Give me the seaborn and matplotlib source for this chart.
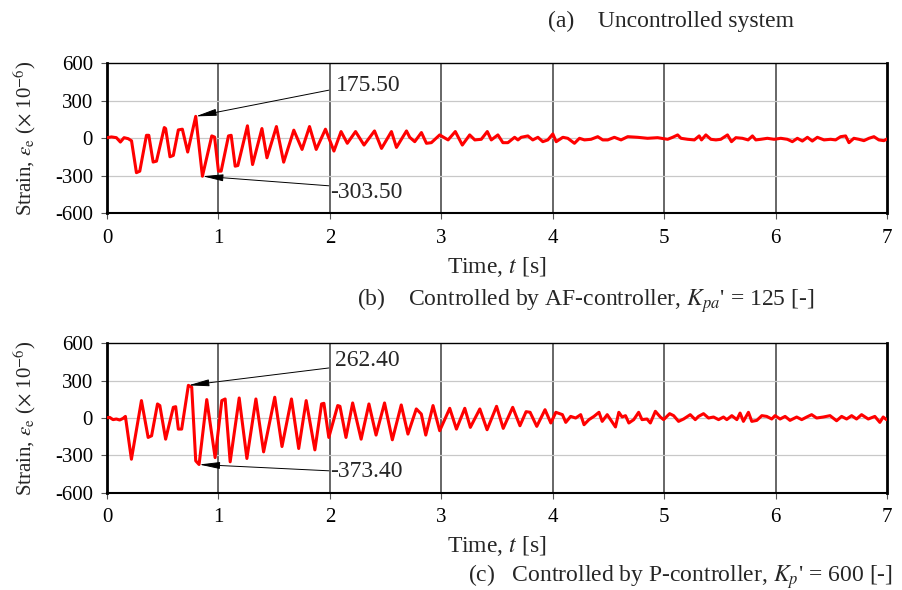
import numpy as np
import pandas as pd
import seaborn as sns
import matplotlib
matplotlib.use("Agg")
import matplotlib.pyplot as plt

# Panel (a)/(b) upper trace: time [s] and strain (x 1e-6)
t_top = [0.00, 0.04, 0.084, 0.12, 0.153, 0.19, 0.22, 0.264, 0.294, 0.354, 0.375,
         0.414, 0.444, 0.514, 0.526, 0.565, 0.595, 0.64, 0.676, 0.724, 0.796,
         0.856, 0.94, 0.965, 1.0, 1.024, 1.09, 1.114, 1.15, 1.174, 1.26, 1.306,
         1.39, 1.435, 1.52, 1.585, 1.676, 1.75, 1.817, 1.877, 1.96, 2.036,
         2.1, 2.156, 2.23, 2.306, 2.4, 2.463, 2.552, 2.597, 2.687, 2.716, 2.761,
         2.821, 2.866, 2.91, 2.985, 3.06, 3.125, 3.188, 3.254, 3.3, 3.358,
         3.412, 3.448, 3.507, 3.552, 3.597, 3.657, 3.687, 3.716, 3.776, 3.82,
         3.866, 3.91, 3.955, 4.0, 4.03, 4.09, 4.134, 4.194, 4.239, 4.284,
         4.343, 4.403, 4.448, 4.493, 4.552, 4.612, 4.672, 4.761, 4.85, 4.94,
         5.03, 5.075, 5.12, 5.15, 5.21, 5.27, 5.313, 5.334, 5.373, 5.418,
         5.463, 5.507, 5.567, 5.603, 5.642, 5.701, 5.752, 5.791, 5.821, 5.866,
         5.925, 5.985, 6.045, 6.104, 6.149, 6.194, 6.239, 6.284, 6.328, 6.373,
         6.433, 6.493, 6.537, 6.582, 6.627, 6.657, 6.701, 6.746, 6.791, 6.836,
         6.881, 6.925, 6.97, 7.0]
e_top = [5, 11, 5, -30, 5, -3, -20, -275, -263, 24, 24,
         -190, -183, 86, 78, -148, -137, 67, 73, -110, 175.5,
         -303.5, 19, 10, -263, -263, 19, 24, -223, -218, 100, -210,
         78, -156, 94, -191, 65, -89, 94, -89, 73, -102,
         54, -40, 54, -54, 59, -81, 54, -73, 59, 8, -27,
         46, -40, -35, 27, -13, 54, -54, 27, -13, -8,
         54, -13, 27, -35, -35, 8, -13, 8, 19, -13,
         8, -27, -13, 35, -27, 8, 0, -40, 0, -13,
         -8, 13, -13, -13, 8, -13, 13, 8, 0, 5,
         -8, 8, 27, 0, -8, -13, 19, -13, 27, -8,
         -13, -8, 27, -27, 5, 0, -13, 19, -13, -8,
         0, -8, 0, -8, -27, 0, -22, 8, -22, 8,
         -13, -8, -13, 13, 19, -35, 0, -8, -19, 0,
         13, -13, -19, -5]

# Panel (b)/(c) lower trace
t_bot = [0.00, 0.024, 0.054, 0.084, 0.114, 0.144, 0.165, 0.219, 0.309, 0.369,
         0.40, 0.453, 0.474, 0.526, 0.595, 0.616, 0.64, 0.67, 0.73, 0.76,
         0.796, 0.826, 0.895, 0.97, 1.03, 1.06, 1.105, 1.186, 1.255, 1.336,
         1.405, 1.505, 1.57, 1.655, 1.72, 1.787, 1.865, 1.925, 1.946, 1.99,
         2.07, 2.09, 2.144, 2.204, 2.28, 2.35, 2.414, 2.49, 2.56, 2.64,
         2.70, 2.775, 2.82, 2.86, 2.925, 2.985, 3.075, 3.135, 3.21, 3.26,
         3.345, 3.41, 3.495, 3.555, 3.64, 3.705, 3.76, 3.796, 3.856, 3.93,
         3.982, 4.027, 4.086, 4.116, 4.16, 4.205, 4.25, 4.28, 4.324, 4.369,
         4.414, 4.443, 4.488, 4.518, 4.562, 4.592, 4.622, 4.652, 4.682, 4.726,
         4.77, 4.80, 4.845, 4.875, 4.92, 4.964, 4.994, 5.048, 5.084, 5.128,
         5.173, 5.233, 5.278, 5.307, 5.352, 5.397, 5.442, 5.487, 5.531, 5.561,
         5.606, 5.651, 5.68, 5.71, 5.755, 5.785, 5.83, 5.875, 5.919, 5.964,
         5.994, 6.039, 6.084, 6.128, 6.188, 6.233, 6.278, 6.322, 6.367, 6.427,
         6.487, 6.546, 6.591, 6.636, 6.681, 6.725, 6.77, 6.83, 6.889, 6.934,
         6.964, 6.994]
e_bot = [3, 5, -13, -8, -16, -3, 13, -331, 140, -156,
         -143, 113, 100, -170, 86, 91, -89, -89, 262.4, 248,
         -344, -373.4, 148, -318, 140, 153, -352, 161, -325, 153,
         -272, 167, -229, 153, -245, 140, -256, 113, 118, -156,
         100, 94, -156, 121, -170, 113, -137, 121, -175, 105,
         -129, 73, 32, -137, 100, -102, 78, -89, 78, -75,
         73, -94, 94, -83, 86, -62, 51, 46, -67, 67,
         -40, 46, 27, -35, 13, 0, 27, -54, -13, 13,
         46, -27, 27, -13, -72, 46, 8, 19, -40, -13,
         46, -13, -8, -40, 54, 8, -13, 35, 19, -27,
         -8, 27, -13, 13, 35, 0, 8, -13, 8, -13,
         19, -13, 40, -27, 46, -27, -19, 19, 13, -8,
         19, -8, 13, -19, 8, -13, 8, 27, 0, 8,
         19, -22, 13, -8, 19, -8, 27, -8, 13, -35,
         8, -13]

# peak annotations: (peak t, peak value, label)
peaks_top = [(0.796, 175.5, "175.50"), (0.856, -303.5, "-303.50")]
peaks_bot = [(0.73, 262.4, "262.40"), (0.826, -373.4, "-373.40")]

sns.set_theme(style="ticks")
plt.rcParams["font.family"] = ["Liberation Serif", "DejaVu Serif"]
plt.rcParams["mathtext.fontset"] = "stix"
plt.rcParams["axes.unicode_minus"] = False
FS_TICK = 15
FS = 17

fig = plt.figure(figsize=(9.03, 5.9), dpi=100)
ax1 = fig.add_axes([0.1185, 0.6385, 0.8640, 0.2542])
ax2 = fig.add_axes([0.1185, 0.1649, 0.8640, 0.2532])


def draw_panel(ax, t, e, peaks, label_pos):
    df = pd.DataFrame({"t": t, "e": e})
    # grid first so the trace sits on top
    for v in range(1, 7):
        ax.axvline(v, color="#5a5a5a", lw=1.3, zorder=1)
    for h in (-300, 0, 300):
        ax.axhline(h, color="#c8c8c8", lw=0.9, zorder=1)
    sns.lineplot(data=df, x="t", y="e", ax=ax, color="red", lw=2.2,
                 estimator=None, sort=False, zorder=3)
    ax.set_xlim(0, 7)
    ax.set_ylim(-600, 600)
    ax.set_xticks(range(0, 8))
    ax.set_yticks([-600, -300, 0, 300, 600])
    ax.tick_params(labelsize=FS_TICK, length=4, width=0.8, colors="#555555",
                   labelcolor="black")
    ax.tick_params(axis="x", pad=7)
    ax.tick_params(axis="y", pad=6)
    ax.set_xlabel(r"Time, $t$ [s]", fontsize=FS, labelpad=5)
    ax.set_ylabel(r"Strain, $\varepsilon_{\rm e}$ ($\times$ 10$^{-6}$)",
                  fontsize=FS_TICK, labelpad=12)
    for s in ax.spines.values():
        s.set_color("black")
    for side in ("left", "right"):
        ax.spines[side].set_linewidth(2.0)
    ax.spines["bottom"].set_linewidth(1.5)
    ax.spines["top"].set_linewidth(1.0)
    for (pt, pv, txt), (tx, ty, sx, sy) in zip(peaks, label_pos):
        ax.annotate("", xy=(pt, pv), xytext=(sx, sy),
                    arrowprops=dict(arrowstyle="-|>,head_length=0.9,head_width=0.15",
                                    color="black", lw=0.7,
                                    mutation_scale=14, shrinkA=0, shrinkB=0),
                    zorder=4)
        ax.text(tx, ty, txt, fontsize=FS, ha="left", va="center", zorder=5)


draw_panel(ax1, t_top, e_top, peaks_top,
           [(2.05, 425, 1.99, 385), (2.0, -430, 1.99, -380)])
draw_panel(ax2, t_bot, e_bot, peaks_bot,
           [(2.05, 460, 1.99, 402), (2.0, -430, 1.99, -424)])

fig.text(0.607, 0.963, "(a)    Uncontrolled system", fontsize=FS,
         ha="left", va="center")
fig.text(0.395, 0.490,
         r"(b)    Controlled by AF-controller, $K_{pa}$' = 125 [-]",
         fontsize=FS, ha="left", va="center")
fig.text(0.518, 0.022,
         r"(c)   Controlled by P-controller, $K_{p}$' = 600 [-]",
         fontsize=FS, ha="left", va="center")

fig.savefig("out.png", dpi=100)
